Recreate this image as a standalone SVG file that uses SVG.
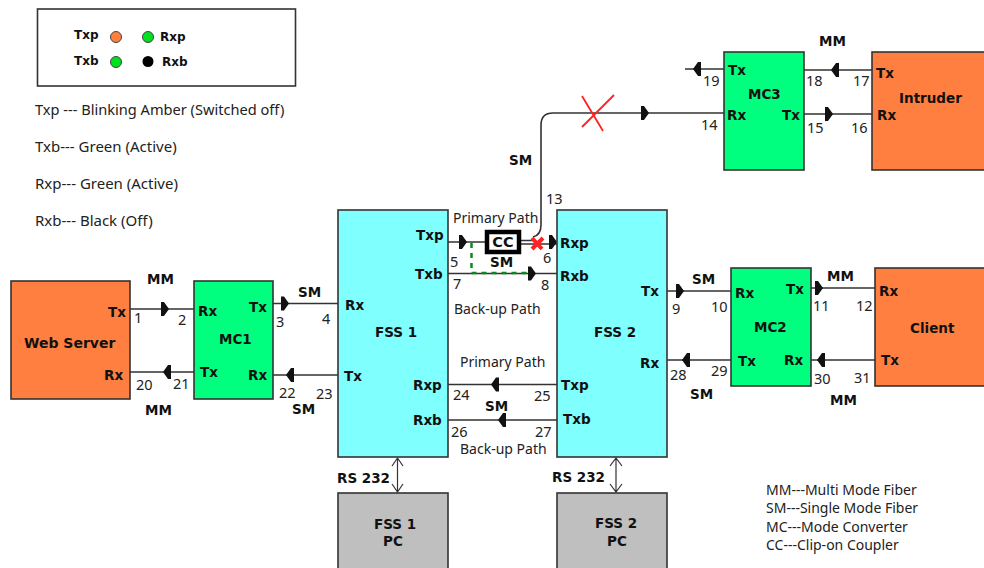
<svg xmlns="http://www.w3.org/2000/svg" width="984" height="568" viewBox="0 0 984 568">
<style>
text{font-family:"Noto Sans","DejaVu Sans",sans-serif;fill:#222;font-size:14px}
.l{font-size:15px}
.b{font-family:"DejaVu Sans",sans-serif;font-weight:bold;font-size:13.5px;fill:#111}
.s{font-size:12px}
.n{font-size:14.5px;fill:#222}
.box{stroke:#333;stroke-width:1.6}
.c{fill:none;stroke:#333;stroke-width:1.6}
.or{fill:#ff7f40}.gr{fill:#00ff7f}.cy{fill:#80ffff}.gy{fill:#bfbfbf}
.m{text-anchor:middle}
</style>
<defs>
<path id="ar" d="M-4-7 L-1-7 L4 0 L-1 7 L-4 7Z" fill="#111"/>
<path id="al" d="M4-7 L1-7 L-4 0 L1 7 L4 7Z" fill="#111"/>
</defs>
<rect width="984" height="568" fill="#fff"/>
<g id="legend">
<rect x="37.500" y="9" width="258" height="77" fill="#fff" stroke="#333" stroke-width="1.600"/>
<text class="b s" x="74" y="39">Txp</text>
<text class="b s" x="160" y="41">Rxp</text>
<text class="b s" x="74" y="65">Txb</text>
<text class="b s" x="162" y="66">Rxb</text>
<circle cx="116" cy="37" r="5.500" fill="#ff7f40" stroke="#444"/>
<circle cx="148" cy="37" r="5.500" fill="#00e020" stroke="#444"/>
<circle cx="116" cy="62" r="5.500" fill="#00e020" stroke="#444"/>
<circle cx="148" cy="61.500" r="5.500" fill="#000"/>
<text class="l" x="35" y="115" style="font-size:14.6px">Txp --- Blinking Amber (Switched off)</text>
<text class="l" x="35" y="152">Txb--- Green (Active)</text>
<text class="l" x="35" y="189">Rxp--- Green (Active)</text>
<text class="l" x="35" y="226">Rxb--- Black (Off)</text>
</g>
<g id="connectors">
<path class="c" d="M130 309H194M130 372H194M273 303.500H338M273 375H338M448 242H485M521 240.500H534M521 244H557M448 273.500H557M448 384.500H557M448 420H557M667 291H731M667 360H731M811 288H875M811 360H875M685 69H724M804 70H872M804 114H872"/>
<path class="c" d="M533 237Q541 235 541 225V125Q541 113 553 113H724"/>
<path class="c" d="M397.500 458V492M392 466L397.500 458L403 466M392 484L397.500 492L403 484M616 458V492M610 466L616 458L622 466M610 484L616 492L622 484" style="stroke-width:1.200"/>
<path d="M471.500 243V273H527" fill="none" stroke="#0a8a1e" stroke-width="2.500" stroke-dasharray="5 5"/>
<use href="#ar" x="165" y="309"/><use href="#al" x="167" y="372"/><use href="#ar" x="285" y="303.500"/><use href="#al" x="290" y="375"/>
<use href="#ar" x="463" y="242"/><use href="#ar" x="553" y="242"/><use href="#ar" x="532" y="273.500"/>
<use href="#al" x="495" y="384.500"/><use href="#al" x="502" y="420"/>
<use href="#ar" x="680" y="291"/><use href="#al" x="686" y="360"/><use href="#ar" x="819" y="288"/><use href="#al" x="821" y="360"/>
<use href="#ar" x="645" y="113"/><use href="#al" x="697" y="69"/><use href="#al" x="835" y="70"/><use href="#ar" x="829" y="114"/>
<path d="M582 96L603 131M614 95L582 127" stroke="#f22" stroke-width="1.800" fill="none"/>
<path d="M532 238L542 249M543 238L532 249" stroke="#f22" stroke-width="4" fill="none"/>
</g>
<g id="cc"><rect x="487" y="232" width="32" height="20" fill="#fff" stroke="#000" stroke-width="4.500"/><text class="b m" x="503" y="247" style="font-size:14.5px">CC</text></g>
<g id="web-server"><rect class="box or" x="11" y="281" width="119" height="118"/><text class="b" x="24" y="348" style="font-size:14px">Web Server</text><text class="b" x="108" y="317">Tx</text><text class="b" x="104" y="380">Rx</text></g>
<g id="mc1"><rect class="box gr" x="194" y="281" width="79" height="118"/><text class="b" x="219" y="344">MC1</text><text class="b" x="198" y="316">Rx</text><text class="b" x="249" y="312">Tx</text><text class="b" x="200" y="377">Tx</text><text class="b" x="248" y="380">Rx</text></g>
<g id="fss1"><rect class="box cy" x="338" y="210" width="110" height="247"/><text class="b" x="375" y="337">FSS 1</text><text class="b" x="345" y="310">Rx</text><text class="b" x="344" y="381">Tx</text><text class="b" x="416" y="240">Txp</text><text class="b" x="415" y="279">Txb</text><text class="b" x="413" y="390">Rxp</text><text class="b" x="413" y="425">Rxb</text></g>
<g id="fss2"><rect class="box cy" x="557" y="210" width="110" height="247"/><text class="b" x="594" y="337">FSS 2</text><text class="b" x="560" y="248">Rxp</text><text class="b" x="560" y="281">Rxb</text><text class="b" x="561" y="390">Txp</text><text class="b" x="563" y="424">Txb</text><text class="b" x="641" y="296">Tx</text><text class="b" x="640" y="368">Rx</text></g>
<g id="fss1-pc"><rect class="box gy" x="338" y="493" width="110" height="80"/><text class="b m" x="395" y="529">FSS 1</text><text class="b m" x="393" y="546">PC</text></g>
<g id="fss2-pc"><rect class="box gy" x="557" y="493" width="110" height="80"/><text class="b m" x="616" y="528">FSS 2</text><text class="b m" x="617" y="546">PC</text></g>
<g id="mc2"><rect class="box gr" x="731" y="268" width="80" height="118"/><text class="b" x="754" y="332">MC2</text><text class="b" x="735" y="298">Rx</text><text class="b" x="786" y="294">Tx</text><text class="b" x="738" y="366">Tx</text><text class="b" x="784" y="365">Rx</text></g>
<g id="client"><rect class="box or" x="875" y="268" width="112" height="118"/><text class="b" x="910" y="333">Client</text><text class="b" x="879" y="296">Rx</text><text class="b" x="881" y="365">Tx</text></g>
<g id="mc3"><rect class="box gr" x="724" y="52" width="80" height="118"/><text class="b" x="748" y="99">MC3</text><text class="b" x="728" y="75">Tx</text><text class="b" x="727" y="120">Rx</text><text class="b" x="782" y="120">Tx</text></g>
<g id="intruder"><rect class="box or" x="872" y="52" width="115" height="118"/><text class="b" x="899" y="103">Intruder</text><text class="b" x="876" y="78">Tx</text><text class="b" x="877" y="120">Rx</text></g>
<g id="labels">
<text class="b" x="147" y="284">MM</text><text class="b" x="145" y="415">MM</text><text class="b" x="298" y="297">SM</text><text class="b" x="292" y="414">SM</text>
<text class="b" x="509" y="165">SM</text><text class="b" x="819" y="46">MM</text><text class="b" x="490" y="267">SM</text><text class="b" x="485" y="411">SM</text>
<text class="b" x="692" y="284">SM</text><text class="b" x="690" y="399">SM</text><text class="b" x="827" y="281">MM</text><text class="b" x="830" y="405">MM</text>
<text class="b" x="337" y="483">RS 232</text><text class="b" x="552" y="482">RS 232</text>
<text x="453" y="223">Primary Path</text><text x="454" y="314">Back-up Path</text><text x="460" y="367">Primary Path</text><text x="460" y="454">Back-up Path</text>
<text class="n" x="134" y="323">1</text><text class="n" x="178" y="325">2</text><text class="n" x="276" y="327">3</text><text class="n" x="322" y="324">4</text>
<text class="n" x="450" y="267">5</text><text class="n" x="543" y="263">6</text><text class="n" x="453" y="289">7</text><text class="n" x="541" y="290">8</text>
<text class="n" x="672" y="314">9</text><text class="n" x="711" y="312">10</text><text class="n" x="813" y="311">11</text><text class="n" x="856" y="311">12</text>
<text class="n" x="546" y="204">13</text><text class="n" x="701" y="130">14</text><text class="n" x="807" y="133">15</text><text class="n" x="851" y="133">16</text>
<text class="n" x="853" y="86">17</text><text class="n" x="806" y="86">18</text><text class="n" x="703" y="86">19</text>
<text class="n" x="136" y="390">20</text><text class="n" x="173" y="389">21</text><text class="n" x="279" y="398">22</text><text class="n" x="316" y="399">23</text>
<text class="n" x="453" y="400">24</text><text class="n" x="534" y="401">25</text><text class="n" x="451" y="437">26</text><text class="n" x="535" y="437">27</text>
<text class="n" x="670" y="380">28</text><text class="n" x="711" y="376">29</text><text class="n" x="814" y="384">30</text><text class="n" x="854" y="383">31</text>
<text x="766" y="495">MM---Multi Mode Fiber</text><text x="766" y="513">SM---Single Mode Fiber</text><text x="766" y="532">MC---Mode Converter</text><text x="766" y="550">CC---Clip-on Coupler</text>
</g>
</svg>
